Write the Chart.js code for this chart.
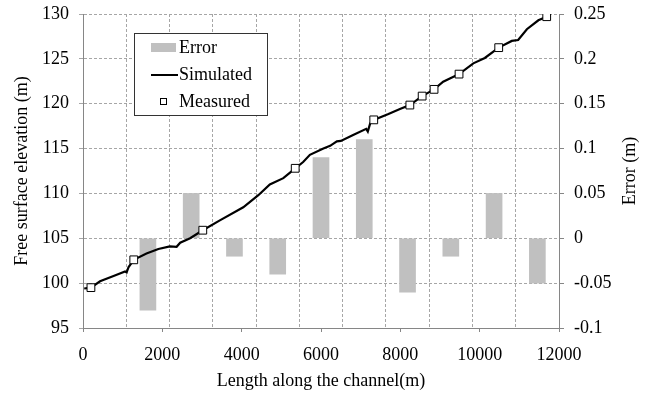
<!DOCTYPE html>
<html>
<head>
<meta charset="utf-8">
<script src="https://cdn.jsdelivr.net/npm/chart.js@4.4.0/dist/chart.umd.min.js"></script>
<style>
html, body { margin: 0; padding: 0; background: #fff; }
#wrap { width: 648px; height: 394px; }
</style>
</head>
<body>
<div id="wrap"><canvas id="chart"></canvas></div>
<script>
// simulated water surface along the channel
const simX = [30, 200, 430, 770, 1060, 1100, 1150, 1280, 1600, 1900, 2190, 2360, 2450, 2700, 3020,
  3450, 4040, 4420, 4710, 5050, 5350, 5550, 5720, 6060, 6230, 6400, 6500, 6810, 7140, 7180, 7240,
  7330, 7700, 7990, 8240, 8550, 8850, 9080, 9340, 9480, 9840, 10130, 10480, 10810, 10970, 11190,
  11480, 11690];
const simY = [99.4, 99.5, 100.2, 100.8, 101.3, 101.2, 101.8, 102.6, 103.3, 103.8, 104.1, 104.05, 104.5,
  105.0, 105.9, 107.0, 108.45, 109.8, 111.0, 111.7, 112.8, 113.5, 114.3, 115.0, 115.3, 115.8, 115.85,
  116.5, 117.2, 116.9, 117.8, 118.2, 118.85, 119.4, 119.85, 120.85, 121.6, 122.45, 123.0, 123.3,
  124.5, 125.1, 126.25, 127.0, 127.1, 128.3, 129.3, 129.7];

// measured points
const measX = [200, 1280, 3020, 5350, 7330, 8240, 8550, 8850, 9480, 10480, 11690];
const measY = [99.5, 102.6, 105.9, 112.8, 118.2, 119.85, 120.85, 121.6, 123.3, 126.25, 129.7];

// error bars (one per column slot, first slot empty)
const errorSlots = ['1', '2', '3', '4', '5', '6', '7', '8', '9', '10', '11'];
const errorValues = [null, -0.08, 0.05, -0.02, -0.04, 0.09, 0.11, -0.06, -0.02, 0.05, -0.05];

// ticks
const xTicks = [0, 2000, 4000, 6000, 8000, 10000, 12000];
const elevTicks = [95, 100, 105, 110, 115, 120, 125, 130];
const errorTicks = [-0.1, -0.05, 0, 0.05, 0.1, 0.15, 0.2, 0.25];
const errorTickLabels = ['-0.1', '-0.05', '0', '0.05', '0.1', '0.15', '0.2', '0.25'];

const FONT = 'Liberation Serif, Times New Roman, serif';
const FS = 18;
const gridColor = '#a6a6a6';
const axisColor = '#868686';
const barColor = '#c0c0c0';

// lock the plot area, drop the label overflow padding
function fixSize(w, h) {
  return s => {
    if (w != null) s.width = w;
    if (h != null) s.height = h;
    s.paddingTop = s.paddingBottom = s.paddingLeft = s.paddingRight = 0;
  };
}

const legendBox = {
  id: 'legendBox',
  afterDraw(chart) {
    const ctx = chart.ctx;
    const ds = chart.data.datasets;
    const x = 134, y = 33, w = 133, h = 82;
    ctx.save();
    ctx.fillStyle = '#fff';
    ctx.fillRect(x, y, w, h);
    ctx.strokeStyle = '#333';
    ctx.lineWidth = 1;
    ctx.strokeRect(x + 0.5, y + 0.5, w, h);
    ctx.font = FS + 'px ' + FONT;
    ctx.textBaseline = 'middle';
    // Error
    ctx.fillStyle = ds[0].backgroundColor;
    ctx.fillRect(151, 43, 25, 9);
    // Simulated
    ctx.strokeStyle = ds[1].borderColor;
    ctx.lineWidth = 2;
    ctx.beginPath(); ctx.moveTo(151, 75); ctx.lineTo(178, 75); ctx.stroke();
    // Measured
    ctx.fillStyle = '#fff';
    ctx.strokeStyle = '#000';
    ctx.lineWidth = 1;
    ctx.fillRect(160, 98, 6, 6);
    ctx.strokeRect(160.5, 98.5, 6, 6);
    ctx.fillStyle = '#000';
    ctx.fillText(ds[0].label, 179, 48);
    ctx.fillText(ds[1].label, 179, 75);
    ctx.fillText(ds[2].label, 179, 102);
    ctx.restore();
  }
};

const rightTitle = {
  id: 'rightTitle',
  afterDraw(chart) {
    const ctx = chart.ctx;
    const a = chart.chartArea;
    ctx.save();
    ctx.translate(630, (a.top + a.bottom) / 2);
    ctx.rotate(-Math.PI / 2);
    ctx.font = FS + 'px ' + FONT;
    ctx.fillStyle = '#000';
    ctx.textAlign = 'center';
    ctx.textBaseline = 'middle';
    ctx.fillText('Error (m)', 0, 0);
    ctx.restore();
  }
};

const ctx = document.getElementById('chart');
new Chart(ctx, {
  type: 'bar',
  data: {
    labels: errorSlots,
    datasets: [{
      type: 'bar',
      label: 'Error',
      data: errorValues,
      xAxisID: 'xb',
      yAxisID: 'y1',
      backgroundColor: barColor,
      borderWidth: 0,
      barThickness: 16,
      grouped: false,
      order: 3
    }, {
      type: 'line',
      label: 'Simulated',
      data: simX.map((v, i) => ({ x: v, y: simY[i] })),
      xAxisID: 'x',
      yAxisID: 'y',
      borderColor: '#000',
      borderWidth: 2.2,
      pointRadius: 0,
      tension: 0,
      order: 2
    }, {
      type: 'line',
      label: 'Measured',
      data: measX.map((v, i) => ({ x: v, y: measY[i] })),
      xAxisID: 'x',
      yAxisID: 'y',
      showLine: false,
      pointStyle: 'rect',
      pointRadius: 5.5,
      pointBackgroundColor: '#fff',
      pointBorderColor: '#000',
      pointBorderWidth: 1,
      order: 1
    }]
  },
  options: {
    responsive: true,
    maintainAspectRatio: false,
    devicePixelRatio: 1,
    animation: false,
    layout: { padding: { top: 14, left: 0, right: 0, bottom: 0 } },
    plugins: {
      legend: { display: false },
      tooltip: { enabled: false }
    },
    scales: {
      x: {
        type: 'linear',
        position: 'bottom',
        min: 0,
        max: 12000,
        offset: false,
        afterBuildTicks: s => { s.ticks = xTicks.map(v => ({ value: v })); },
        afterFit: fixSize(null, 66),
        ticks: { callback: v => String(v), color: '#000', padding: 12, font: { family: FONT, size: FS } },
        grid: { drawOnChartArea: false, offset: false, tickLength: 4, tickColor: axisColor },
        border: { color: axisColor, width: 1 },
        title: { display: true, text: 'Length along the channel(m)', color: '#000',
          font: { family: FONT, size: FS }, padding: { top: 0, bottom: 2 } }
      },
      xb: {
        type: 'category',
        position: 'top',
        labels: errorSlots,
        offset: true,
        afterFit: fixSize(null, 0),
        ticks: { display: false },
        grid: { offset: true, drawTicks: false, color: gridColor },
        border: { display: false, dash: [3, 2] }
      },
      y: {
        type: 'linear',
        position: 'left',
        min: 95,
        max: 130,
        afterBuildTicks: s => { s.ticks = elevTicks.map(v => ({ value: v })); },
        afterFit: fixSize(83, null),
        ticks: { color: '#000', padding: 10, font: { family: FONT, size: FS } },
        grid: { color: gridColor, tickLength: 4 },
        border: { color: axisColor, width: 1, dash: [3, 2] },
        title: { display: true, text: 'Free surface elevation (m)', color: '#000',
          font: { family: FONT, size: FS }, padding: { top: 11, bottom: 0 } }
      },
      y1: {
        type: 'linear',
        position: 'right',
        min: -0.1,
        max: 0.25,
        afterBuildTicks: s => { s.ticks = errorTicks.map(v => ({ value: v })); },
        afterFit: fixSize(89, null),
        ticks: { color: '#000', padding: 10, font: { family: FONT, size: FS },
          callback: (v, i) => errorTickLabels[i] },
        grid: { drawOnChartArea: false, tickLength: 5, tickColor: axisColor },
        border: { color: axisColor, width: 1 }
      }
    }
  },
  plugins: [legendBox, rightTitle]
});
</script>
</body>
</html>
